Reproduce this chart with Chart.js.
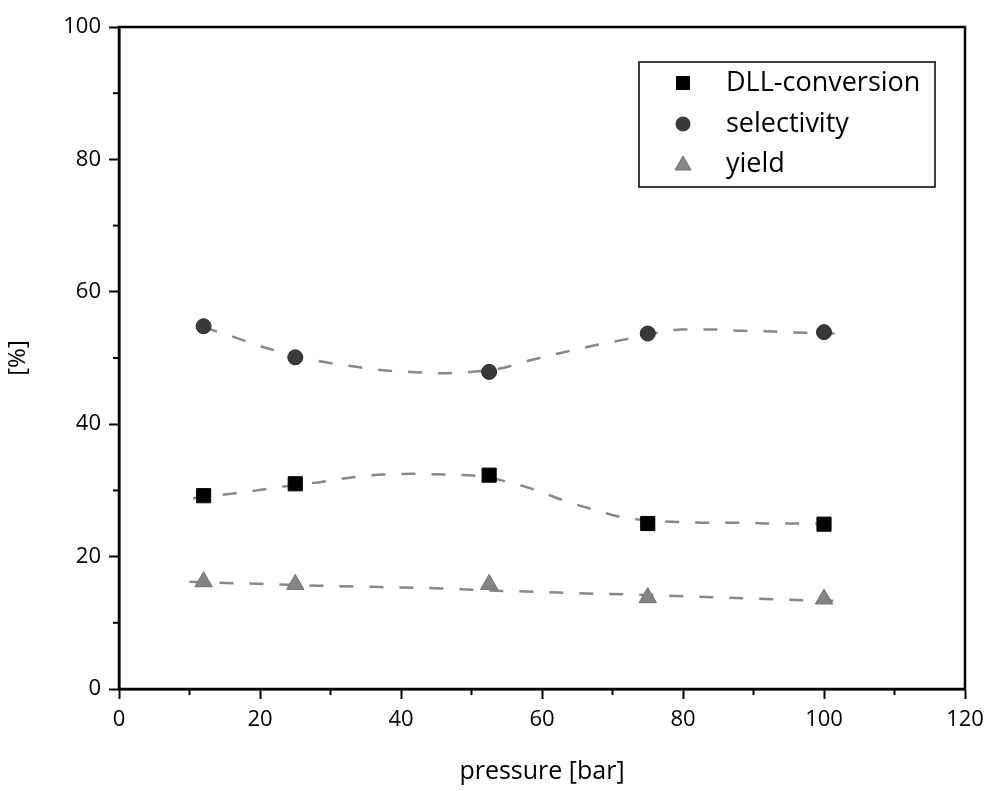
<!DOCTYPE html>
<html>
<head>
<meta charset="utf-8">
<script src="https://cdn.jsdelivr.net/npm/chart.js@4"></script>
<style>
  html, body { margin: 0; padding: 0; background: #fff; }
  #wrap { width: 987px; height: 791px; }
</style>
</head>
<body>
<div id="wrap"><canvas id="chart" width="987" height="791"></canvas></div>
<script>
// measured points
const pressure = [12, 25, 52.5, 75, 100];
const conversion = [29.2, 31.0, 32.3, 25.0, 24.9];
const selectivity = [54.8, 50.1, 47.9, 53.7, 53.9];
const yieldVals = [16.2, 15.8, 15.8, 13.8, 13.6];

// dashed fit curves
const convFitX = [10.5, 15.9, 20.2, 25, 28.9, 33.2, 37.5, 41.7, 46.1, 50.5, 54.7, 59, 63, 67.3, 71.5, 76.3, 80, 84.3, 88.6, 93, 97.3, 101.8];
const convFitY = [28.8, 29.5, 30.1, 30.8, 31.3, 32.0, 32.4, 32.5, 32.4, 32.2, 31.4, 30.1, 28.5, 27.1, 25.9, 25.4, 25.2, 25.1, 25.1, 25.0, 25.0, 24.9];
const selFitX = [12, 15.7, 20, 24.5, 28.5, 32.8, 37, 41.3, 45.8, 50, 54, 58.5, 62.8, 67, 71.3, 76.3, 79.8, 84.3, 88.5, 92.8, 97.3, 101.5];
const selFitY = [54.6, 53.4, 51.8, 50.5, 49.5, 48.8, 48.2, 47.9, 47.7, 47.9, 48.4, 49.7, 50.8, 51.8, 52.7, 53.8, 54.3, 54.3, 54.1, 54.0, 53.8, 53.7];
const yieldFitX = [10, 15.3, 19.7, 28.3, 37, 45.8, 52.1, 58.8, 67.3, 71.8, 80.3, 89, 97.8, 101.8];
const yieldFitY = [16.2, 16.0, 15.9, 15.6, 15.4, 15.2, 14.9, 14.7, 14.4, 14.3, 14.0, 13.7, 13.4, 13.3];

const xTicks = [0, 20, 40, 60, 80, 100, 120];
const yTicks = [0, 20, 40, 60, 80, 100];

const FONT = "'Open Sans', 'DejaVu Sans', sans-serif";

function pts(xs, ys) {
  return xs.map((x, i) => ({ x: x, y: ys[i] }));
}

function fitSet(xs, ys) {
  return {
    data: pts(xs, ys),
    showLine: true,
    borderColor: '#888',
    borderWidth: 2.5,
    borderDash: [14, 16],
    pointRadius: 0,
    cubicInterpolationMode: 'monotone',
    fill: false,
    order: 5
  };
}

const series = [
  { label: 'DLL-conversion', data: pts(pressure, conversion), pointStyle: 'rect', pointRadius: 10,
    backgroundColor: '#000', borderColor: '#000', borderWidth: 1, showLine: false, order: 1 },
  { label: 'selectivity', data: pts(pressure, selectivity), pointStyle: 'circle', pointRadius: 7.5,
    backgroundColor: '#3a3a3a', borderColor: '#2a2a2a', borderWidth: 1, showLine: false, order: 1 },
  { label: 'yield', data: pts(pressure, yieldVals), pointStyle: 'triangle', pointRadius: 10,
    backgroundColor: '#858585', borderColor: '#6e6e6e', borderWidth: 1, showLine: false, order: 1 }
];

// frame, minor ticks and legend box
const decor = {
  id: 'decor',
  afterDraw(chart) {
    const ctx = chart.ctx;
    const a = chart.chartArea;
    const xs = chart.scales.x, ys = chart.scales.y;
    ctx.save();
    ctx.strokeStyle = '#000';
    ctx.lineWidth = 2.5;
    ctx.strokeRect(a.left, a.top, a.right - a.left, a.bottom - a.top);
    ctx.lineWidth = 2;
    for (let v = 10; v < 120; v += 20) {
      const px = xs.getPixelForValue(v);
      ctx.beginPath(); ctx.moveTo(px, a.bottom); ctx.lineTo(px, a.bottom + 6); ctx.stroke();
    }
    for (let v = 10; v < 100; v += 20) {
      const py = ys.getPixelForValue(v);
      ctx.beginPath(); ctx.moveTo(a.left, py); ctx.lineTo(a.left - 6, py); ctx.stroke();
    }

    // legend
    const lx = 639, ly = 62, lw = 296, lh = 125;
    ctx.lineWidth = 1.5;
    ctx.strokeRect(lx, ly, lw, lh);
    ctx.font = '27px ' + FONT;
    ctx.textBaseline = 'middle';
    ctx.fillStyle = '#000';
    const rows = [83, 124, 164];
    series.forEach((s, i) => {
      const mx = 683, my = rows[i];
      ctx.fillStyle = s.backgroundColor;
      ctx.strokeStyle = s.borderColor;
      ctx.lineWidth = 1;
      ctx.beginPath();
      if (s.pointStyle === 'rect') {
        ctx.rect(mx - 6.5, my - 6.5, 13, 13);
      } else if (s.pointStyle === 'circle') {
        ctx.arc(mx, my, 7, 0, Math.PI * 2);
      } else {
        ctx.moveTo(mx, my - 8);
        ctx.lineTo(mx + 8, my + 6);
        ctx.lineTo(mx - 8, my + 6);
        ctx.closePath();
      }
      ctx.fill();
      ctx.stroke();
      ctx.fillStyle = '#000';
      ctx.fillText(s.label, 726, my);
    });
    ctx.restore();
  }
};

new Chart(document.getElementById('chart'), {
  type: 'scatter',
  data: {
    datasets: [
      fitSet(convFitX, convFitY),
      fitSet(selFitX, selFitY),
      fitSet(yieldFitX, yieldFitY),
      ...series
    ]
  },
  options: {
    responsive: false,
    animation: false,
    layout: { padding: { left: 0, right: 22, top: 27, bottom: 0 } },
    plugins: { legend: { display: false }, tooltip: { enabled: false } },
    scales: {
      x: {
        type: 'linear', min: 0, max: 120,
        afterBuildTicks: s => { s.ticks = xTicks.map(v => ({ value: v })); },
        afterFit: s => { s.height = 102; s.paddingLeft = 0; s.paddingRight = 0; },
        grid: { drawOnChartArea: false, tickLength: 10, tickWidth: 2, color: '#000' },
        border: { color: '#000', width: 2.5 },
        ticks: { color: '#000', font: { family: FONT, size: 22 }, padding: 8, maxRotation: 0 },
        title: { display: true, text: 'pressure [bar]', color: '#000', font: { family: FONT, size: 25 }, padding: { top: 12 } }
      },
      y: {
        type: 'linear', min: 0, max: 100,
        afterBuildTicks: s => { s.ticks = yTicks.map(v => ({ value: v })); },
        afterFit: s => { s.width = 119; s.paddingTop = 0; s.paddingBottom = 0; },
        grid: { drawOnChartArea: false, tickLength: 10, tickWidth: 2, color: '#000' },
        border: { color: '#000', width: 2.5 },
        ticks: { color: '#000', font: { family: FONT, size: 22 }, padding: 8 },
        title: { display: true, text: '[%]', color: '#000', font: { family: FONT, size: 24 }, padding: { bottom: 4 } }
      }
    }
  },
  plugins: [decor]
});
</script>
</body>
</html>
